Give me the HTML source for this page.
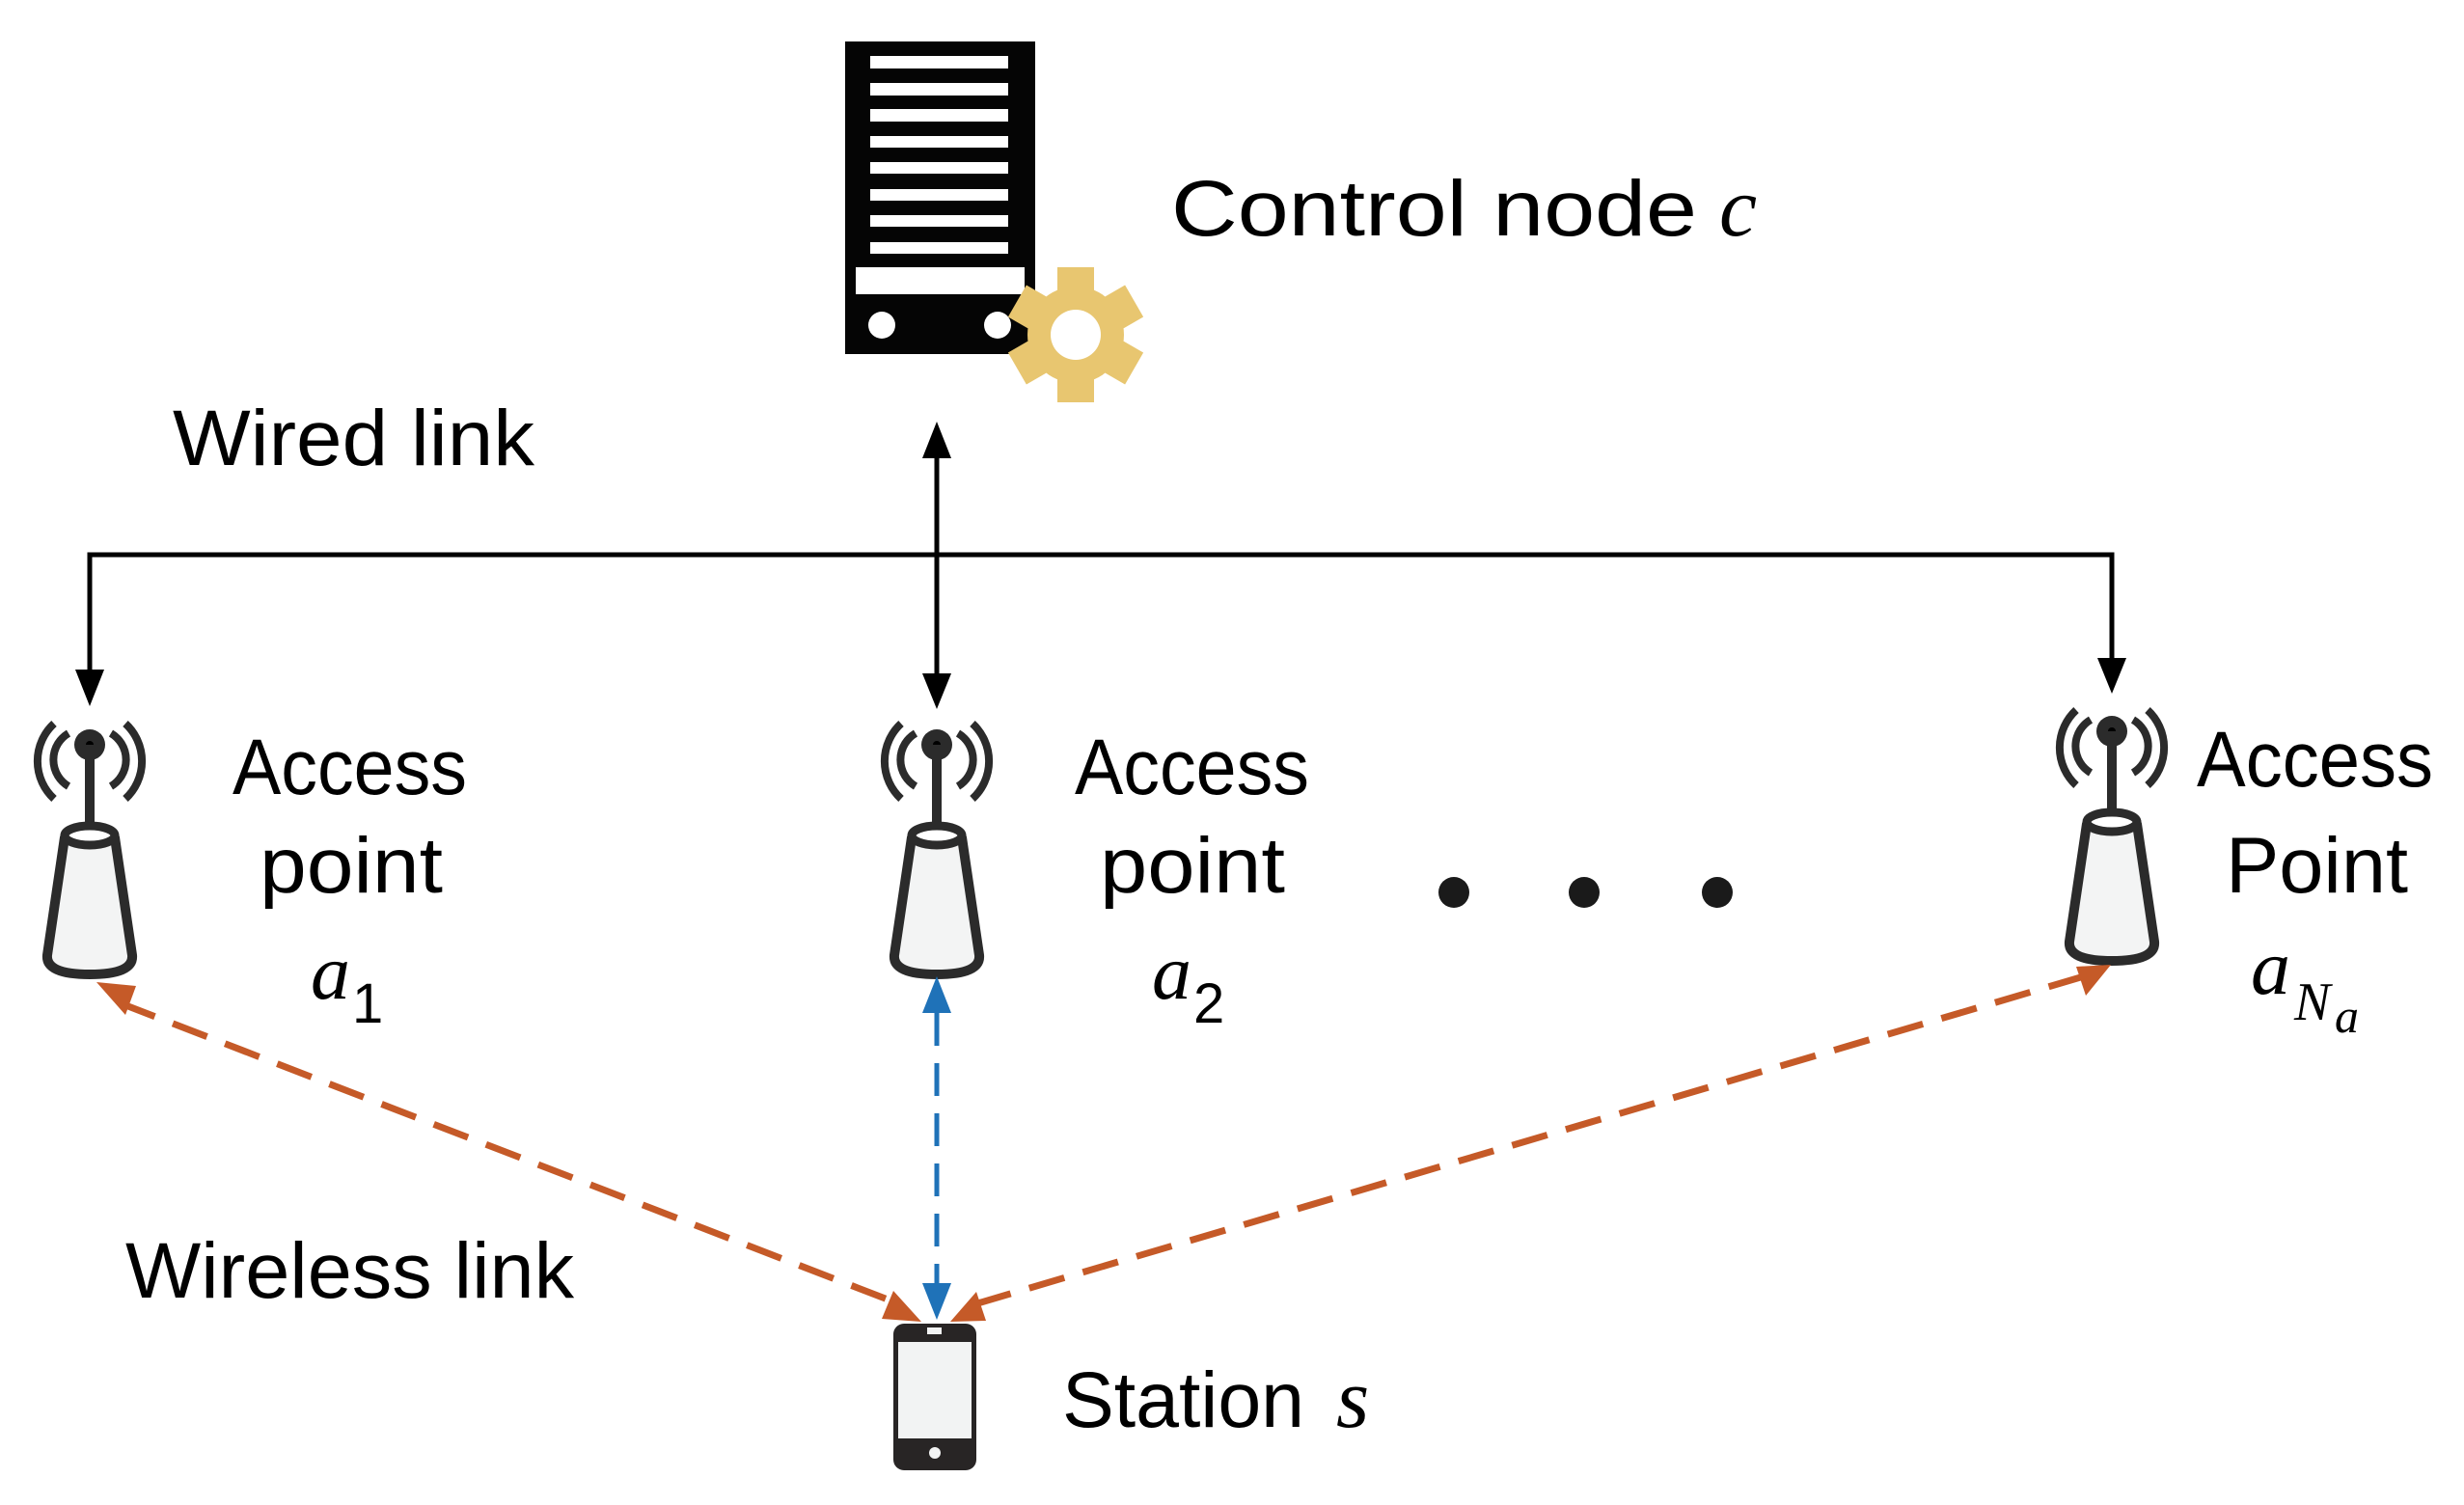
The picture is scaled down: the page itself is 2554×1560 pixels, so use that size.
<!DOCTYPE html>
<html><head><meta charset="utf-8"><style>
html,body{margin:0;padding:0;background:#fff;}
svg{display:block;}
text{font-family:"Liberation Sans",sans-serif;fill:#000;}
.m{font-family:"Liberation Serif",serif;font-style:italic;}
</style></head><body>
<svg width="2554" height="1560" viewBox="0 0 2554 1560" xmlns="http://www.w3.org/2000/svg">
<defs>
<g id="ap">
  <path d="M-37,750 A53,53 0 0 0 -37,828" fill="none" stroke="#2b2b2b" stroke-width="8"/>
  <path d="M37,750 A53,53 0 0 1 37,828" fill="none" stroke="#2b2b2b" stroke-width="8"/>
  <path d="M-22,760 A32,32 0 0 0 -22,815" fill="none" stroke="#2b2b2b" stroke-width="8"/>
  <path d="M22,760 A32,32 0 0 1 22,815" fill="none" stroke="#2b2b2b" stroke-width="8"/>
  <circle cx="0" cy="772" r="16" fill="#2b2b2b"/>
  <circle cx="0" cy="772" r="4" fill="#000"/>
  <rect x="-5" y="772" width="10" height="92" fill="#2b2b2b"/>
  <path d="M-26,868 L-44,990 Q-46,1010 0,1010 Q46,1010 44,990 L26,868 Z" fill="#f3f4f4" stroke="#2b2b2b" stroke-width="10" stroke-linejoin="round"/>
  <ellipse cx="0" cy="866" rx="26" ry="10" fill="#fff" stroke="#2b2b2b" stroke-width="9"/>
</g>
</defs>
<!-- server -->
<rect x="876" y="43" width="197" height="324" fill="#050505"/>
<g fill="#fff">
<rect x="902" y="58" width="143" height="13"/>
<rect x="902" y="86" width="143" height="13"/>
<rect x="902" y="113" width="143" height="13"/>
<rect x="902" y="141" width="143" height="12"/>
<rect x="902" y="168" width="143" height="12"/>
<rect x="902" y="196" width="143" height="12"/>
<rect x="902" y="223" width="143" height="12"/>
<rect x="902" y="251" width="143" height="12"/>
<rect x="887" y="277" width="175" height="28"/>
<circle cx="914" cy="337" r="14"/>
<circle cx="1034" cy="337" r="14"/>
</g>
<!-- gear -->
<g transform="translate(1115,347)" fill="#e8c670">
  <circle r="50"/>
  <g id="t"><rect x="-19" y="-70" width="38" height="30"/></g>
  <use href="#t" transform="rotate(60)"/><use href="#t" transform="rotate(120)"/>
  <use href="#t" transform="rotate(180)"/><use href="#t" transform="rotate(240)"/>
  <use href="#t" transform="rotate(300)"/>
  <circle r="26" fill="#fff"/>
</g>
<text x="1214" y="244" font-size="82" textLength="545" lengthAdjust="spacingAndGlyphs">Control node</text>
<text x="1782" y="244" font-size="88" class="m">c</text>
<text x="179" y="482" font-size="82" textLength="375" lengthAdjust="spacingAndGlyphs">Wired link</text>
<!-- wired lines -->
<g stroke="#000" stroke-width="5" fill="none">
<polyline points="93,700 93,575 2189,575 2189,688"/>
<line x1="971" y1="470" x2="971" y2="700"/>
</g>
<g fill="#000">
<polygon points="78,694 108,694 93,732"/>
<polygon points="956,698 986,698 971,735"/>
<polygon points="956,475 986,475 971,437"/>
<polygon points="2174,682 2204,682 2189,719"/>
</g>
<!-- APs -->
<use href="#ap" transform="translate(93,0)"/>
<use href="#ap" transform="translate(971,0)"/>
<use href="#ap" transform="translate(2189,-14)"/>
<!-- AP labels -->
<text x="241" y="823" font-size="82" textLength="243" lengthAdjust="spacingAndGlyphs">Access</text>
<text x="269" y="925" font-size="82" textLength="190" lengthAdjust="spacingAndGlyphs">point</text>
<text x="322" y="1035" font-size="82" class="m">a</text><text x="365" y="1060" font-size="58" font-family="Liberation Serif">1</text>
<text x="1114" y="823" font-size="82" textLength="243" lengthAdjust="spacingAndGlyphs">Access</text>
<text x="1140" y="925" font-size="82" textLength="192" lengthAdjust="spacingAndGlyphs">point</text>
<text x="1194" y="1035" font-size="82" class="m">a</text><text x="1237" y="1060" font-size="58" font-family="Liberation Serif">2</text>
<text x="2277" y="815" font-size="82" textLength="245" lengthAdjust="spacingAndGlyphs">Access</text>
<text x="2307" y="925" font-size="82" textLength="189" lengthAdjust="spacingAndGlyphs">Point</text>
<text x="2333" y="1030" font-size="82" class="m">a</text><text x="2378" y="1057" font-size="56" class="m">N</text><text x="2420" y="1070" font-size="50" class="m">a</text>
<!-- dots -->
<circle cx="1507" cy="925" r="16" fill="#1a1a1a"/>
<circle cx="1642" cy="925" r="16" fill="#1a1a1a"/>
<circle cx="1780" cy="925" r="16" fill="#1a1a1a"/>
<!-- wireless -->
<g stroke="#c55a28" stroke-width="7" stroke-dasharray="38,20" fill="none">
<line x1="125" y1="1040" x2="928" y2="1350"/>
<line x1="2160" y1="1012" x2="1010" y2="1352"/>
</g>
<line x1="971" y1="1050" x2="971" y2="1335" stroke="#1f72b8" stroke-width="5" stroke-dasharray="34,18"/>
<g fill="#c55a28">
<polygon points="100,1018 141,1022 130,1052"/>
<polygon points="955,1370 914,1367 926,1338"/>
<polygon points="2188,1000 2162,1032 2152,1002"/>
<polygon points="985,1370 1022,1369 1012,1339"/>
</g>
<g fill="#1f72b8">
<polygon points="971,1012 956,1050 986,1050"/>
<polygon points="971,1368 956,1330 986,1330"/>
</g>
<text x="130" y="1345" font-size="82" textLength="465" lengthAdjust="spacingAndGlyphs">Wireless link</text>
<!-- phone -->
<rect x="926" y="1372" width="86" height="152" rx="11" fill="#282525"/>
<rect x="931" y="1391" width="76" height="100" fill="#f2f3f3"/>
<rect x="961" y="1376" width="15" height="7" fill="#f2f3f3"/>
<circle cx="969" cy="1506" r="6" fill="#f2f3f3"/>
<text x="1101" y="1479" font-size="82" textLength="251" lengthAdjust="spacingAndGlyphs">Station</text>
<text x="1385" y="1479" font-size="88" class="m">s</text>
</svg>
</body></html>
